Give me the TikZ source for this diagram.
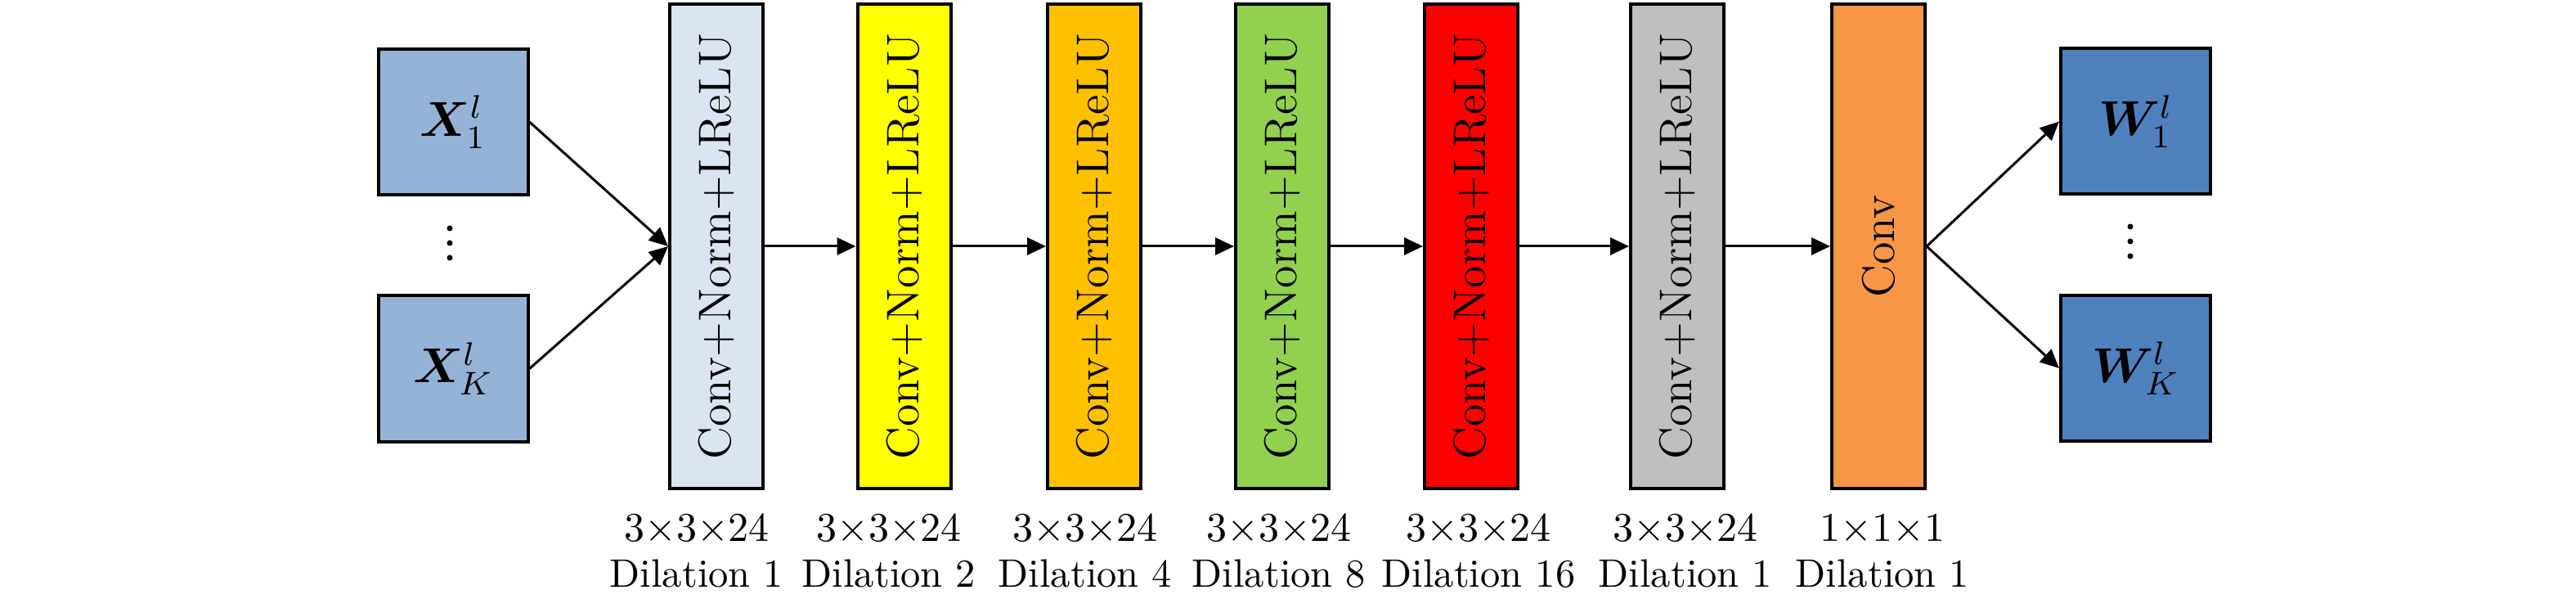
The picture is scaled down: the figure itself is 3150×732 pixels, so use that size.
\documentclass[tikz,border=0pt]{standalone}
\usepackage{bm}
\usepackage{graphicx}
\usetikzlibrary{arrows.meta}
\definecolor{cinblue}{HTML}{95B3D7}
\definecolor{coutblue}{HTML}{4F81BD}
\definecolor{cblkA}{HTML}{DBE5F1}
\definecolor{cblkB}{HTML}{FFFF00}
\definecolor{cblkC}{HTML}{FFC000}
\definecolor{cblkD}{HTML}{92D050}
\definecolor{cblkE}{HTML}{FF0000}
\definecolor{cblkF}{HTML}{BFBFBF}
\definecolor{cblkG}{HTML}{F79646}
\begin{document}
\begin{tikzpicture}[x=0.2pt,y=-0.2pt,
  layer/.style={draw=black, line width=0.8pt, inner sep=0pt, minimum width=22.8pt, minimum height=118.4pt, font=\fontsize{11.2}{13}\selectfont},
  mapbox/.style={draw=black, line width=0.8pt, inner sep=0pt, minimum width=36.6pt, minimum height=35.6pt, font=\fontsize{12}{14}\selectfont},
  lbl/.style={anchor=base, inner sep=0pt, font=\fontsize{9.7}{11}\selectfont},
  conn/.style={line width=0.6pt, -{Triangle[length=4.6pt,width=4.2pt]}},
  dotmark/.style={fill=black},
]
\useasboundingbox (0,0) rectangle (3150,732);
% input maps
\node[mapbox, fill=cinblue] (x1) at (554,149) {$\bm{X}^{l}_{1}$};
\node[mapbox, fill=cinblue] (xk) at (554,450.5) {$\bm{X}^{l}_{K}$};
% output maps
\node[mapbox, fill=coutblue] (w1) at (2611.5,148.5) {$\bm{W}^{l}_{1}$};
\node[mapbox, fill=coutblue] (wk) at (2611.5,450) {$\bm{W}^{l}_{K}$};
% dots
\fill[dotmark] (550,279) circle (0.7pt);
\fill[dotmark] (550,297) circle (0.7pt);
\fill[dotmark] (550,315) circle (0.7pt);
\fill[dotmark] (2605,277) circle (0.7pt);
\fill[dotmark] (2605,295) circle (0.7pt);
\fill[dotmark] (2605,313) circle (0.7pt);
% layers
\node[layer, fill=cblkA] (b1) at (876,301) {\rotatebox{90}{Conv+Norm+LReLU}};
\node[layer, fill=cblkB] (b2) at (1105.5,301) {\rotatebox{90}{Conv+Norm+LReLU}};
\node[layer, fill=cblkC] (b3) at (1338,301) {\rotatebox{90}{Conv+Norm+LReLU}};
\node[layer, fill=cblkD] (b4) at (1568,301) {\rotatebox{90}{Conv+Norm+LReLU}};
\node[layer, fill=cblkE] (b5) at (1799,301) {\rotatebox{90}{Conv+Norm+LReLU}};
\node[layer, fill=cblkF] (b6) at (2051,301) {\rotatebox{90}{Conv+Norm+LReLU}};
\node[layer, fill=cblkG] (b7) at (2297,301) {\rotatebox{90}{Conv}};
% connectors
\draw[conn] (x1.east) -- (b1.west);
\draw[conn] (xk.east) -- (b1.west);
\draw[conn] (b1.east) -- (b2.west);
\draw[conn] (b2.east) -- (b3.west);
\draw[conn] (b3.east) -- (b4.west);
\draw[conn] (b4.east) -- (b5.west);
\draw[conn] (b5.east) -- (b6.west);
\draw[conn] (b6.east) -- (b7.west);
\draw[conn] (b7.east) -- (w1.west);
\draw[conn] (b7.east) -- (wk.west);
% labels
\node[lbl] (s1) at (852,661) {$3{\times}3{\times}24$};
\node[lbl] (s2) at (1087,661) {$3{\times}3{\times}24$};
\node[lbl] (s3) at (1327,661) {$3{\times}3{\times}24$};
\node[lbl] (s4) at (1564,661) {$3{\times}3{\times}24$};
\node[lbl] (s5) at (1808,661) {$3{\times}3{\times}24$};
\node[lbl] (s6) at (2061,661) {$3{\times}3{\times}24$};
\node[lbl] (s7) at (2302,661) {$1{\times}1{\times}1$};
\node[lbl] (d1) at (852,718) {Dilation 1};
\node[lbl] (d2) at (1087,718) {Dilation 2};
\node[lbl] (d3) at (1327,718) {Dilation 4};
\node[lbl] (d4) at (1564,718) {Dilation 8};
\node[lbl] (d5) at (1808,718) {Dilation 16};
\node[lbl] (d6) at (2061,718) {Dilation 1};
\node[lbl] (d7) at (2302,718) {Dilation 1};
\end{tikzpicture}
\end{document}
